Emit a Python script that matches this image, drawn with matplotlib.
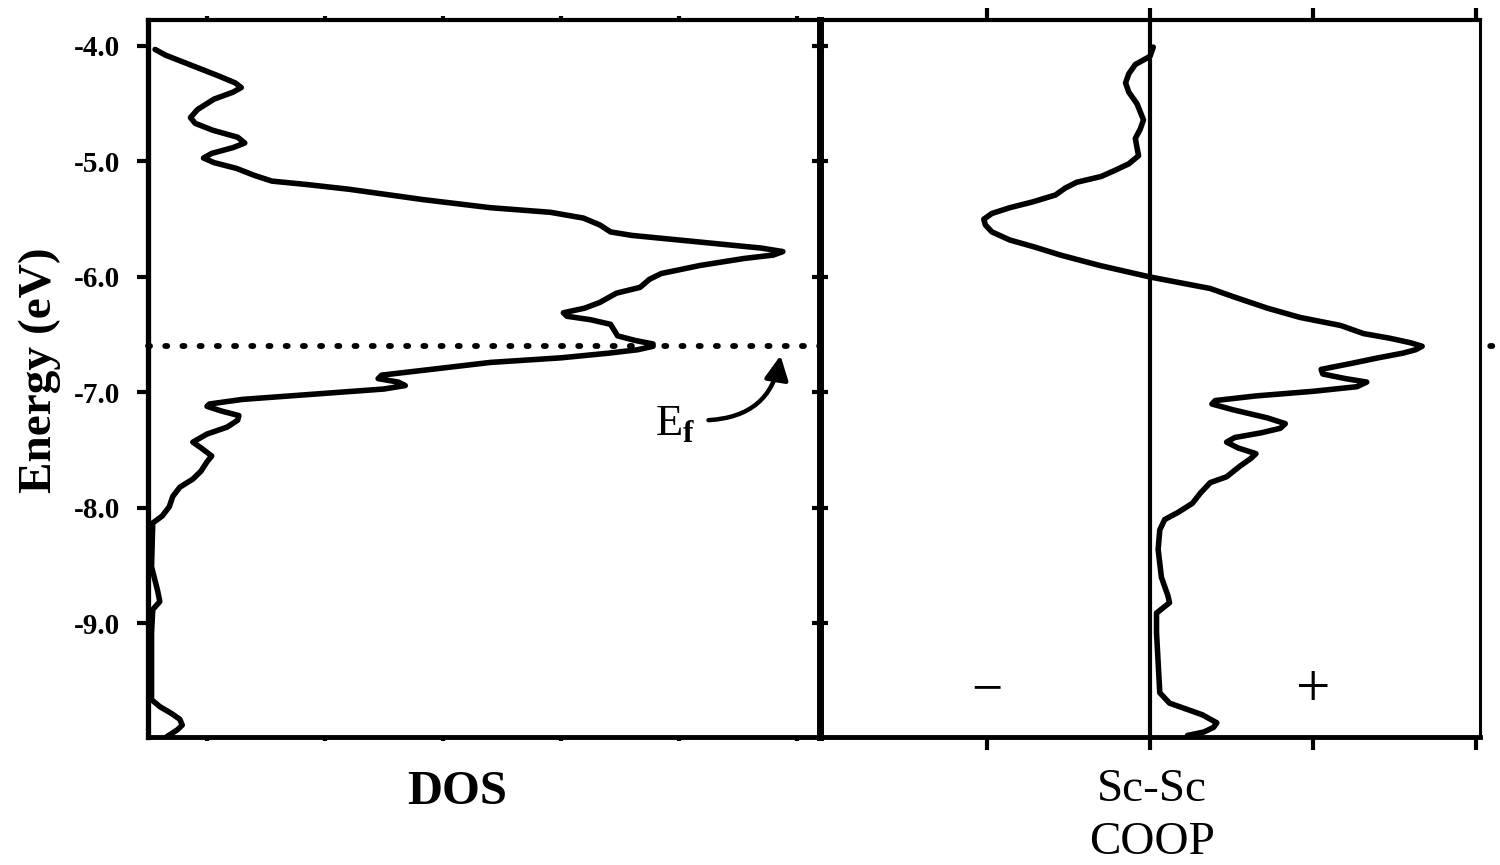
import matplotlib
matplotlib.use("Agg")
import matplotlib.pyplot as plt
from matplotlib.ticker import FixedLocator, FormatStrFormatter
from matplotlib.transforms import blended_transform_factory

plt.rcParams['font.family'] = ['Liberation Serif', 'DejaVu Serif']
plt.rcParams['axes.unicode_minus'] = False
plt.rcParams['mathtext.fontset'] = 'custom'
plt.rcParams['mathtext.rm'] = 'Liberation Serif'
plt.rcParams['mathtext.bf'] = 'Liberation Serif:bold'

# total density of states (arbitrary units) vs energy
dos_E = [-4.03, -4.08, -4.14, -4.20, -4.26, -4.32, -4.36, -4.40, -4.46, -4.55,
         -4.62, -4.67, -4.73, -4.79, -4.84, -4.88, -4.93, -4.97, -5.01, -5.06,
         -5.12, -5.17, -5.20, -5.24, -5.27, -5.33, -5.40, -5.44, -5.49, -5.55,
         -5.61, -5.64, -5.67, -5.71, -5.75, -5.78, -5.81, -5.84, -5.90, -5.97,
         -6.02, -6.09, -6.14, -6.18, -6.22, -6.27, -6.31, -6.34, -6.37, -6.41,
         -6.46, -6.51, -6.55, -6.58, -6.60, -6.63, -6.66, -6.70, -6.74, -6.80,
         -6.85, -6.88, -6.91, -6.94, -6.97, -7.00, -7.06, -7.10, -7.12, -7.16,
         -7.20, -7.24, -7.30, -7.36, -7.43, -7.48, -7.55, -7.60, -7.68, -7.75,
         -7.82, -7.90, -7.99, -8.07, -8.13, -8.51, -8.71, -8.81, -8.88, -9.08,
         -9.66, -9.72, -9.78, -9.83, -9.88, -9.92, -9.98]
dos_x = [0.06, 0.15, 0.30, 0.45, 0.60, 0.74, 0.79, 0.72, 0.56, 0.42,
         0.36, 0.40, 0.55, 0.76, 0.82, 0.72, 0.54, 0.47, 0.56, 0.75,
         0.90, 1.05, 1.35, 1.70, 1.91, 2.33, 2.90, 3.41, 3.69, 3.83,
         3.92, 4.10, 4.40, 4.80, 5.20, 5.38, 5.30, 5.05, 4.68, 4.35,
         4.25, 4.17, 3.97, 3.90, 3.83, 3.70, 3.52, 3.55, 3.75, 3.92,
         3.95, 3.98, 4.13, 4.28, 4.28, 4.15, 3.90, 3.50, 2.90, 2.40,
         1.98, 1.95, 2.12, 2.18, 2.00, 1.60, 0.80, 0.52, 0.50, 0.62,
         0.77, 0.76, 0.67, 0.50, 0.38, 0.45, 0.54, 0.50, 0.45, 0.38,
         0.27, 0.21, 0.18, 0.12, 0.04, 0.03, 0.08, 0.10, 0.04, 0.03,
         0.03, 0.10, 0.20, 0.27, 0.29, 0.25, 0.16]

# Sc-Sc crystal orbital overlap population
coop_E = [-4.01, -4.09, -4.16, -4.24, -4.32, -4.40, -4.50, -4.64, -4.72, -4.80,
          -4.88, -4.95, -5.02, -5.08, -5.13, -5.18, -5.23, -5.29, -5.35, -5.40,
          -5.45, -5.50, -5.55, -5.61, -5.68, -5.74, -5.81, -5.90, -6.00, -6.10,
          -6.17, -6.27, -6.35, -6.42, -6.49, -6.53, -6.57, -6.60, -6.63, -6.66,
          -6.70, -6.75, -6.80, -6.84, -6.88, -6.91, -6.95, -6.99, -7.03, -7.07,
          -7.10, -7.15, -7.22, -7.27, -7.31, -7.35, -7.39, -7.43, -7.48, -7.53,
          -7.57, -7.64, -7.73, -7.78, -7.87, -7.96, -8.04, -8.10, -8.19, -8.36,
          -8.60, -8.76, -8.82, -8.91, -9.08, -9.60, -9.69, -9.79, -9.86, -9.90,
          -9.94, -9.97]
coop_x = [0.02, 0.00, -0.09, -0.13, -0.15, -0.13, -0.08, -0.04, -0.06, -0.09,
          -0.08, -0.07, -0.13, -0.22, -0.30, -0.45, -0.52, -0.58, -0.72, -0.86,
          -0.97, -1.02, -1.01, -0.97, -0.86, -0.71, -0.55, -0.31, 0.00, 0.37,
          0.51, 0.72, 0.92, 1.17, 1.31, 1.47, 1.60, 1.67, 1.63, 1.55,
          1.40, 1.23, 1.05, 1.06, 1.20, 1.33, 1.27, 1.00, 0.65, 0.40,
          0.38, 0.51, 0.72, 0.83, 0.80, 0.68, 0.52, 0.47, 0.54, 0.65,
          0.62, 0.55, 0.47, 0.37, 0.31, 0.26, 0.17, 0.09, 0.06, 0.05,
          0.07, 0.11, 0.12, 0.04, 0.04, 0.06, 0.12, 0.32, 0.41, 0.39,
          0.33, 0.23]

e_fermi = -6.60
energy_ticks = [-4.0, -5.0, -6.0, -7.0, -8.0, -9.0]
dos_ticks = [0.5, 1.5, 2.5, 3.5, 4.5, 5.5]
coop_ticks = [-1, 0, 1, 2]

fig = plt.figure(figsize=(15, 8.65), dpi=100)
ax1 = fig.add_axes([0.09867, 0.14798, 0.448, 0.8289])
ax2 = fig.add_axes([0.54667, 0.14798, 0.44, 0.8289])

ylo, yhi = -9.983, -3.775

# DOS panel
ax1.plot(dos_x, dos_E, color='black', lw=4, solid_joinstyle='round',
         solid_capstyle='round')
ax1.set_xlim(0, 5.695)
ax1.set_ylim(ylo, yhi)
ax1.yaxis.set_major_locator(FixedLocator(energy_ticks))
ax1.yaxis.set_major_formatter(FormatStrFormatter('%.1f'))
ax1.xaxis.set_major_locator(FixedLocator(dos_ticks))
ax1.tick_params(axis='y', direction='out', length=8, width=3, pad=12,
                labelsize=21)
for lab in ax1.get_yticklabels():
    lab.set_fontweight('bold')
ax1.tick_params(axis='x', direction='out', length=3, width=3,
                top=True, labelbottom=False)
for side, w in [('left', 3.8), ('bottom', 3.5), ('top', 3.0), ('right', 5.0)]:
    ax1.spines[side].set_linewidth(w)

# COOP panel
ax2.plot(coop_x, coop_E, color='black', lw=4, solid_joinstyle='round',
         solid_capstyle='round')
ax2.axvline(0, color='black', lw=3)
ax2.set_xlim(-2.025, 2.025)
ax2.set_ylim(ylo, yhi)
ax2.yaxis.set_major_locator(FixedLocator(energy_ticks))
ax2.xaxis.set_major_locator(FixedLocator(coop_ticks))
ax2.tick_params(axis='y', direction='inout', length=11, width=3,
                labelleft=False)
ax2.tick_params(axis='x', direction='out', length=9, width=3,
                top=True, labelbottom=False)
for side, w in [('left', 5.0), ('bottom', 3.5), ('top', 3.0), ('right', 2.2)]:
    ax2.spines[side].set_linewidth(w)
ax2.text(-1, -9.59, '\u2212', ha='center', va='center', fontsize=40)
ax2.text(1, -9.59, '+', ha='center', va='center', fontsize=44)

# Fermi level across both panels
trans = blended_transform_factory(fig.transFigure, ax1.transData)
ax1.plot([148 / 1500, 1498 / 1500], [e_fermi, e_fermi], transform=trans,
         color='black', lw=4.2, linestyle=(0, (0.35, 2.6)),
         dash_capstyle='round', clip_on=False)

ax1.annotate('', xy=(5.36, -6.68), xytext=(4.75, -7.24),
             arrowprops=dict(arrowstyle='-|>,head_length=0.8,head_width=0.4',
                             connectionstyle='arc3,rad=0.4', color='black',
                             lw=3.2, mutation_scale=18, shrinkA=0, shrinkB=0))
ax1.text(4.47, -7.28, r'E$_{\mathbf{f}}$', ha='center', va='center',
         fontsize=32)

fig.text(40 / 1500, 1 - 370 / 865, 'Energy (eV)', rotation=90, ha='center',
         va='center', fontsize=34, fontweight='bold')
fig.text(457 / 1500, 1 - 792 / 865, 'DOS', ha='center', va='center',
         fontsize=35, fontweight='bold')
fig.text(1152 / 1500, 1 - 790 / 865, 'Sc-Sc', ha='center', va='center',
         fontsize=34)
fig.text(1152 / 1500, 1 - 843 / 865, 'COOP', ha='center', va='center',
         fontsize=34)

fig.savefig('out.png', dpi=100)
